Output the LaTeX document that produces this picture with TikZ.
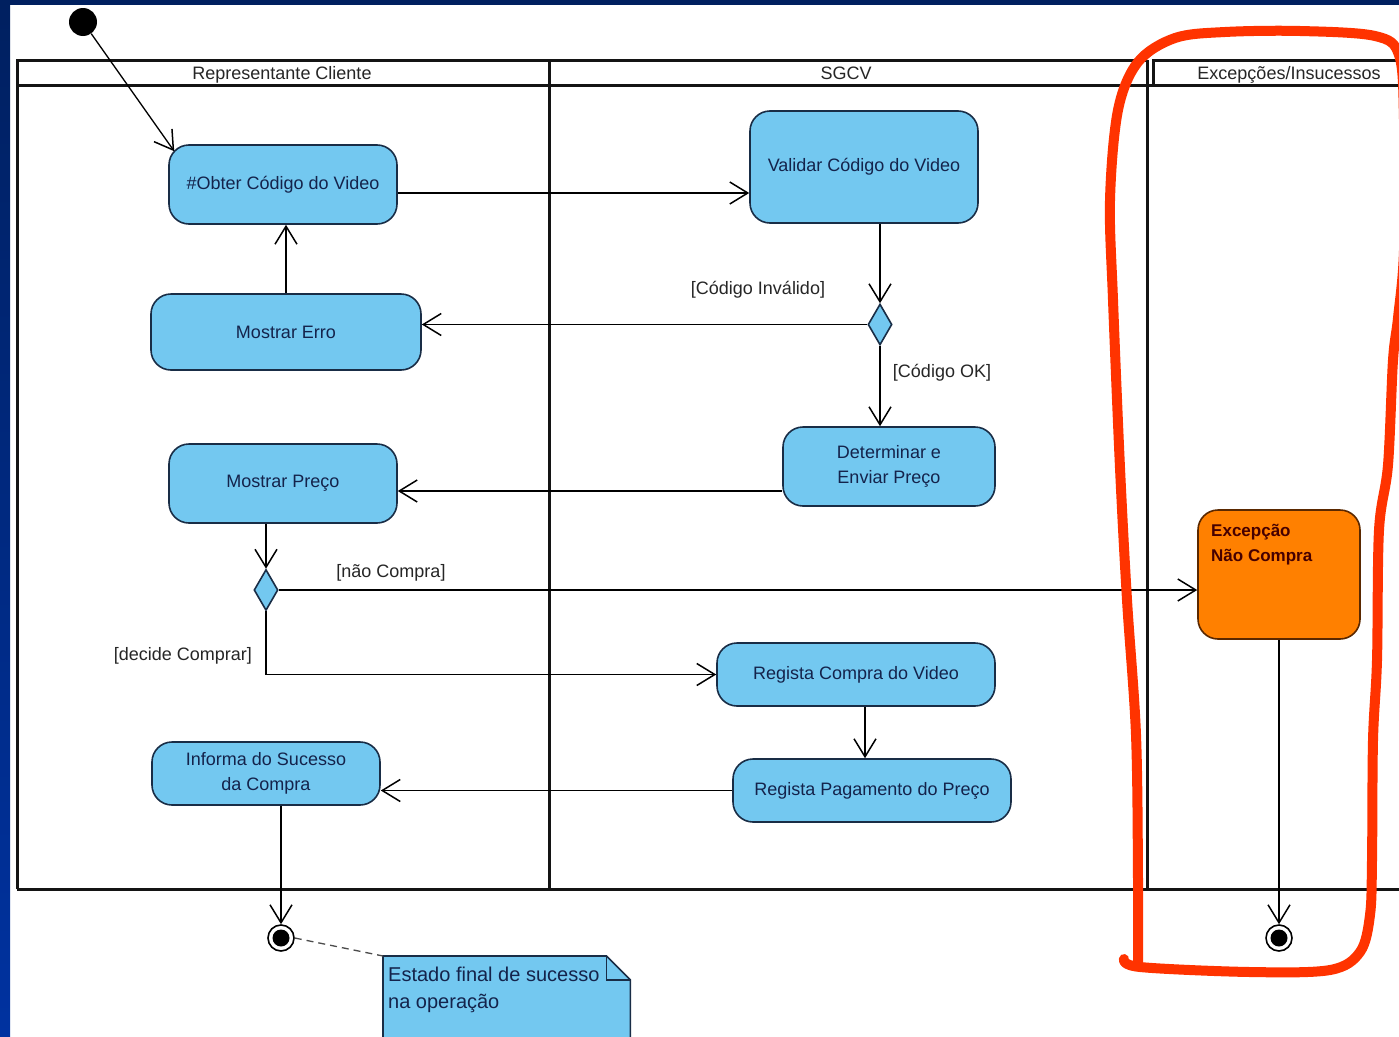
\documentclass[tikz,border=0pt]{standalone}
\usepackage{fontspec}
\setmainfont{Liberation Sans}
\usetikzlibrary{arrows.meta,shapes.geometric,calc}

\definecolor{bandtop}{RGB}{0,32,96}
\definecolor{bandside}{RGB}{0,50,160}
\definecolor{actfill}{RGB}{115,200,240}
\definecolor{actline}{RGB}{25,45,70}
\definecolor{acttext}{RGB}{20,35,75}
\definecolor{excfill}{RGB}{255,128,0}
\definecolor{excline}{RGB}{90,40,0}
\definecolor{exctext}{RGB}{70,0,0}
\definecolor{highlight}{RGB}{255,51,0}
\definecolor{laneline}{RGB}{20,20,20}

\begin{document}
\begin{tikzpicture}[x=1pt,y=-1pt,
  lane/.style={draw=laneline, line width=3pt},
  lanehead/.style={anchor=base, text=black!85, font=\fontsize{18}{20}\selectfont, inner sep=0pt},
  action/.style={draw=actline, line width=1.6pt, fill=actfill, rounded corners=20pt,
    text=acttext, font=\fontsize{18}{25}\selectfont, align=center, inner sep=0pt},
  exception/.style={draw=excline, line width=1.6pt, fill=excfill, rounded corners=20pt, inner sep=0pt},
  choice/.style={diamond, draw=actline, line width=1.6pt, fill=actfill, inner sep=0pt,
    minimum width=24pt, minimum height=41pt},
  startnode/.style={circle, fill=black, minimum size=28pt, inner sep=0pt},
  endnode/.style={circle, draw=black, line width=1.6pt, fill=white, minimum size=26pt, inner sep=0pt,
    path picture={\fill[black] (path picture bounding box.center) circle (8.5pt);}},
  flow/.style={draw=black, line width=1.3pt,
    -{Straight Barb[length=18pt,width=22pt,line width=1.5pt]}},
  guard/.style={text=black!85, font=\fontsize{18}{20}\selectfont, inner sep=0pt},
]
\clip (0,0) rectangle (1399,1036);
\useasboundingbox (0,0) rectangle (1399,1036);

% slide background
\fill[white] (0,0) rectangle (1399,1036);
\fill[bandtop] (0,0) rectangle (1399,5);
\shade[top color=bandtop, bottom color=bandside] (0,0) rectangle (10,1036);

% swimlanes
\draw[lane] (17,889) -- (17,60) -- (1147,60);
\draw[lane] (1153,85) -- (1153,60) -- (1405,60);
\draw[lane] (17,85) -- (1405,85);
\draw[lane] (549,60) -- (549,889);
\draw[lane] (1147,60) -- (1147,889);
\draw[lane] (17,889) -- (1405,889);
\node[lanehead] (hcli) at (282,79) {Representante Cliente};
\node[lanehead] (hsys) at (846,79) {SGCV};
\node[lanehead] (hexc) at (1289,79) {Excepções/Insucessos};

% activities
\node[startnode] (start) at (83,22) {};
\node[action, minimum width=228pt, minimum height=79pt] (obter) at (283,184.5) {\#Obter Código do Video};
\node[action, minimum width=228pt, minimum height=112pt] (validar) at (864,167) {Validar Código do Video};
\node[action, minimum width=270pt, minimum height=76pt] (erro) at (286,332) {Mostrar Erro};
\node[choice] (d1) at (880,324.5) {};
\node[action, minimum width=212pt, minimum height=79pt] (determinar) at (889,466.5) {Determinar e\\Enviar Preço};
\node[action, minimum width=228pt, minimum height=79pt] (preco) at (283,483.5) {Mostrar Preço};
\node[choice] (d2) at (266,590) {};
\node[exception, minimum width=162pt, minimum height=129pt] (excecao) at (1279,574.5) {};
\node[anchor=north west, align=left, inner sep=0pt, text=exctext,
  font=\fontsize{17}{25}\selectfont\bfseries] (exctxt) at (1211,524) {Excepção\\Não Compra};
\node[action, minimum width=278pt, minimum height=63pt] (compra) at (856,674.5) {Regista Compra do Video};
\node[action, minimum width=278pt, minimum height=63pt] (pagamento) at (872,790.5) {Regista Pagamento do Preço};
\node[action, minimum width=228pt, minimum height=63pt] (informa) at (266,773.5) {Informa do Sucesso\\da Compra};
\node[endnode] (fin1) at (281,938) {};
\node[endnode] (fin2) at (1279,938) {};

% comment note
\node[anchor=north west, minimum width=247pt, minimum height=90pt, inner sep=0pt] (note) at (383,956) {};
\draw[draw=actline, line width=1.6pt, fill=actfill]
  (note.north west) -- ($(note.north east)+(-24,0)$) -- ($(note.north east)+(0,24)$)
  -- (note.south east) -- (note.south west) -- cycle;
\draw[draw=actline, line width=1.4pt]
  ($(note.north east)+(-24,0)$) -- ($(note.north east)+(-24,24)$) -- ($(note.north east)+(0,24)$);
\node[anchor=north west, align=left, inner sep=0pt, text=acttext,
  font=\fontsize{20}{27}\selectfont] (notetxt) at (388,967) {Estado final de sucesso\\na operação};
\draw[black!70, line width=1.3pt, dash pattern=on 7pt off 5pt] (fin1.east) -- (note.north west);

% control flows
\draw[flow] (start) -- ($(obter.north west)+(6,7)$);
\draw[flow] (obter.east |- 0,193) -- (validar.west |- 0,193);
\draw[flow] (d1.north |- validar.south) -- (d1.north);
\draw[flow] (d1.west) -- (d1.west -| erro.east);
\node[guard] (lblinv) at (758,290) {[Código Inválido]};
\draw[flow] (d1.south) -- (d1.south |- determinar.north);
\node[guard] (lblok) at (942,373) {[Código OK]};
\draw[flow] (erro.north) -- (erro.north |- obter.south);
\draw[flow] (determinar.west |- 0,491) -- (preco.east |- 0,491);
\draw[flow] (d2.north |- preco.south) -- (d2.north);
\draw[flow] (d2.east) -- (d2.east -| excecao.west);
\node[guard] (lblnao) at (391,573) {[não Compra]};
\draw[flow] (d2.south) |- (compra.west);
\node[guard] (lbldec) at (183,656) {[decide Comprar]};
\draw[flow] (compra.south -| 865,0) -- (865,0 |- pagamento.north);
\draw[flow] (pagamento.west) -- (pagamento.west -| informa.east);
\draw[flow] (fin1 |- informa.south) -- (fin1.north);
\draw[flow] (excecao.south) -- (fin2.north);

% hand-drawn highlight around the exception lane
\draw[highlight, line width=10pt, line cap=round, line join=round]
  plot[smooth, tension=0.55] coordinates {
    (1124,959) (1140,967) (1250,972) (1330,970) (1360,952) (1370,915)
    (1372,860) (1373,740) (1377,660) (1379,530) (1388,465) (1393,360)
    (1398,318) (1404,250) (1404,120) (1399,55) (1375,36) (1300,31)
    (1225,32) (1175,38) (1138,62) (1118,110) (1110,200) (1113,300)
    (1120,468) (1127,600) (1136,735) (1138,880) (1138,962)};
\end{tikzpicture}
\end{document}
